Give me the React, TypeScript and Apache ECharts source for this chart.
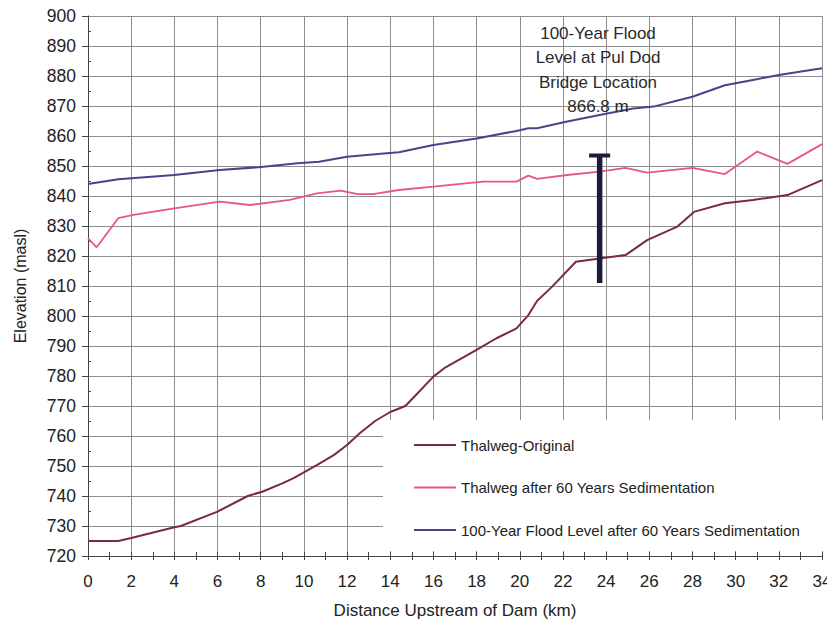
import React, { useEffect, useRef } from "react";
import * as echarts from "echarts";

const xTicks = [0, 34, 2];
const yTicks = [720, 900, 10];

const origKm = [0, 1.4, 2.0, 4.0, 4.3, 6.0, 7.4, 8.1, 9.0, 9.5, 10.0, 10.6, 11.4, 12.0, 12.6, 13.3, 14.0, 14.7, 15.3, 16.0, 16.5, 17.3, 18.0, 18.9, 19.85, 20.4, 20.8, 21.5, 22.6, 23.7, 24.9, 25.9, 27.3, 28.1, 29.5, 30.8, 32.4, 34.0];
const origElev = [725, 725, 726, 729.6, 730, 734.8, 740, 741.5, 744.2, 745.9, 747.9, 750.3, 753.7, 757, 761, 765, 768, 770, 774.5, 779.8, 782.6, 785.9, 788.7, 792.5, 795.9, 800.3, 805, 809.8, 818.1, 819.2, 820.3, 825.3, 829.8, 834.8, 837.6, 838.7, 840.3, 845.3];

const sedKm = [0, 0.4, 1.4, 2.1, 4.0, 6.1, 7.5, 9.35, 10.6, 11.7, 12.5, 13.2, 14.4, 16.0, 18.3, 19.85, 20.4, 20.8, 22.2, 23.7, 24.9, 25.9, 28.0, 29.5, 31.0, 32.4, 34.0];
const sedElev = [825.9, 822.9, 832.6, 833.7, 835.9, 838.1, 837, 838.7, 840.9, 841.8, 840.6, 840.6, 842, 843.1, 844.8, 844.8, 846.8, 845.7, 847, 848.1, 849.4, 847.8, 849.4, 847.3, 854.8, 850.7, 857.3];

const floodKm = [0, 1.4, 4.0, 6.1, 7.9, 9.7, 10.7, 12.0, 13.7, 14.4, 16.0, 18.0, 19.85, 20.4, 20.8, 22.2, 23.7, 25.25, 26.2, 27.4, 28.0, 29.5, 30.8, 32.0, 34.0];
const floodElev = [844, 845.6, 847, 848.7, 849.6, 850.9, 851.4, 853.1, 854.2, 854.6, 857, 859.2, 861.7, 862.6, 862.6, 864.8, 867, 869.2, 869.8, 872, 873.1, 876.9, 878.7, 880.3, 882.6];

const seriesNames = [
  "Thalweg-Original",
  "Thalweg after 60 Years Sedimentation",
  "100-Year Flood Level after 60 Years Sedimentation",
];

const markerKm = 23.7;
const markerTop = 853.5;
const markerBottom = 811;
const markerCapHalf = 0.49;

const annotationLines = ["100-Year Flood", "Level at Pul Dod", "Bridge Location", "866.8 m"];

const FONT = "'Liberation Sans', Arial, sans-serif";

function zip(xs: number[], ys: number[]) {
  return xs.map((x, i) => [x, ys[i]]);
}

export default function App() {
  const ref = useRef<HTMLDivElement>(null);
  useEffect(() => {
    if (!ref.current) return;
    const chart = echarts.init(ref.current, undefined, { renderer: "svg" });
    const gridColor = "#8e8e8e";
    const axisColor = "#444";
    const baseX = {
      type: "value",
      min: xTicks[0],
      max: xTicks[1],
      interval: xTicks[2],
      position: "bottom",
    };
    const baseY = {
      type: "value",
      min: yTicks[0],
      max: yTicks[1],
      interval: yTicks[2],
      position: "left",
    };
    chart.setOption({
      animation: false,
      backgroundColor: "#fff",
      textStyle: { fontFamily: FONT },
      grid: { left: 88, right: 5, top: 16, bottom: 67, outerBoundsMode: "none", containLabel: false },
      xAxis: [
        {
          ...baseX,
          name: "Distance Upstream of Dam (km)",
          nameLocation: "middle",
          nameGap: 46,
          nameTextStyle: { fontSize: 17, color: "#222", fontFamily: FONT },
          axisLine: { show: true, lineStyle: { color: axisColor, width: 1 } },
          axisTick: { show: true, length: 4, lineStyle: { color: axisColor } },
          minorTick: { show: true, splitNumber: 2, length: 4, lineStyle: { color: axisColor } },
          axisLabel: { fontSize: 17, color: "#222", margin: 17, fontFamily: FONT },
          splitLine: { show: true, lineStyle: { color: gridColor, width: 1 } },
        },
        {
          ...baseX,
          axisLine: { show: false },
          axisTick: { show: true, inside: true, length: 4, lineStyle: { color: axisColor } },
          minorTick: { show: true, splitNumber: 2, length: 4, lineStyle: { color: axisColor } },
          axisLabel: { show: false },
          splitLine: { show: false },
        },
      ],
      yAxis: [
        {
          ...baseY,
          name: "Elevation (masl)",
          nameLocation: "middle",
          nameGap: 60,
          nameTextStyle: { fontSize: 16, color: "#222", fontFamily: FONT },
          axisLine: { show: true, lineStyle: { color: axisColor, width: 1 } },
          axisTick: { show: true, length: 6, lineStyle: { color: axisColor } },
          axisLabel: { fontSize: 17.5, color: "#222", margin: 12, fontFamily: FONT },
          splitLine: { show: true, lineStyle: { color: gridColor, width: 1 } },
        },
        {
          ...baseY,
          axisLine: { show: false },
          axisTick: { show: false, inside: true },
          minorTick: { show: true, splitNumber: 2, length: 3, lineStyle: { color: axisColor } },
          axisLabel: { show: false },
          splitLine: { show: false },
        },
      ],
      legend: {
        data: seriesNames,
        orient: "vertical",
        left: 383,
        top: 420,
        padding: [16, 40, 12, 31],
        backgroundColor: "#fff",
        icon: "rect",
        itemWidth: 42,
        itemHeight: 2,
        itemGap: 24.5,
        textStyle: { fontSize: 15, color: "#222", fontFamily: FONT, lineHeight: 18 },
        z: 10,
      },
      graphic: [
        {
          type: "text",
          x: 598,
          y: 21,
          z: 5,
          style: {
            text: annotationLines.join("\n"),
            fontSize: 17,
            fontFamily: FONT,
            fill: "#2a2a2a",
            align: "center",
            verticalAlign: "top",
            lineHeight: 24.5,
          },
        },
      ],
      series: [
        {
          name: seriesNames[0],
          type: "line",
          data: zip(origKm, origElev),
          symbol: "none",
          lineStyle: { color: "#7a2a3c", width: 2 },
          itemStyle: { color: "#7a2a3c" },
        },
        {
          name: seriesNames[1],
          type: "line",
          data: zip(sedKm, sedElev),
          symbol: "none",
          lineStyle: { color: "#e8577c", width: 1.8 },
          itemStyle: { color: "#e8577c" },
        },
        {
          name: seriesNames[2],
          type: "line",
          data: zip(floodKm, floodElev),
          symbol: "none",
          lineStyle: { color: "#45458a", width: 2 },
          itemStyle: { color: "#45458a" },
        },
        {
          name: "marker",
          type: "line",
          data: [
            [markerKm, markerTop],
            [markerKm, markerBottom],
          ],
          symbol: "none",
          lineStyle: { color: "#1c1c3a", width: 5.5, cap: "butt" },
          z: 3,
        },
        {
          name: "markerCap",
          type: "line",
          data: [
            [markerKm - markerCapHalf, markerTop],
            [markerKm + markerCapHalf, markerTop],
          ],
          symbol: "none",
          lineStyle: { color: "#1c1c3a", width: 4, cap: "butt" },
          z: 3,
        },
      ],
    });
    return () => chart.dispose();
  }, []);
  return (
    <div
      ref={ref}
      style={{ position: "fixed", left: 0, top: 0, width: 827, height: 623 }}
    />
  );
}
